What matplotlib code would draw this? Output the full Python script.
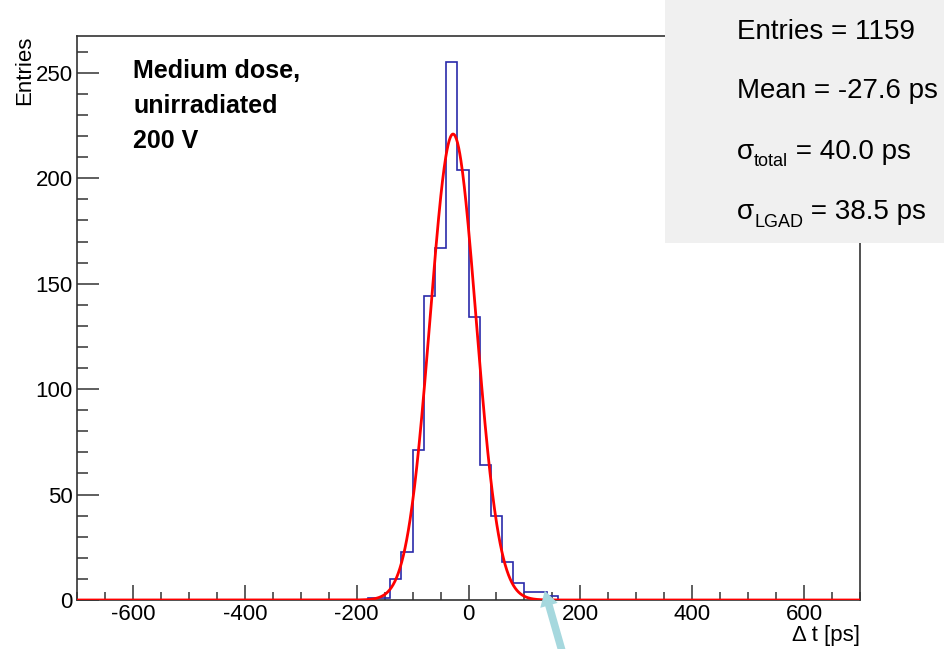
import numpy as np
import matplotlib
matplotlib.use("Agg")
import matplotlib.pyplot as plt
from matplotlib.ticker import MultipleLocator
from matplotlib.patches import Rectangle

plt.rcParams['font.family'] = ['Liberation Sans', 'DejaVu Sans']
plt.rcParams['axes.unicode_minus'] = False

# ---- data ----
bin_width = 20
x_range = (-700, 700)
first_bin_low = -180
counts = [1, 1, 10, 23, 71, 144, 167, 255, 204, 134, 64, 40, 18, 8, 4, 4, 2]

fit_amp = 221.0
fit_mean = -27.6
fit_sigma = 41.0

stats_plain = ["Entries = 1159", "Mean = -27.6 ps"]
stats_sigma = [("total", " = 40.0 ps"), ("LGAD", " = 38.5 ps")]
label_text = "Medium dose,\nunirradiated\n200 V"

# ---- figure ----
W, H = 945, 649
fig = plt.figure(figsize=(W / 100, H / 100), dpi=100)
L, R, B, T = 77, 860, 600, 36
ax = fig.add_axes([L / W, 1 - B / H, (R - L) / W, (B - T) / H])

edges = np.arange(x_range[0], x_range[1] + bin_width, bin_width)
full = np.zeros(len(edges) - 1)
i0 = int((first_bin_low - x_range[0]) / bin_width)
full[i0:i0 + len(counts)] = counts
ax.stairs(full, edges, color='#2a2aaa', linewidth=1.2, baseline=0, zorder=3)

xf = np.linspace(x_range[0], x_range[1], 1400)
yf = fit_amp * np.exp(-0.5 * ((xf - fit_mean) / fit_sigma) ** 2)
ax.plot(xf, yf, color='#ff0000', linewidth=2.0, zorder=4)

ax.set_xlim(*x_range)
ax.set_ylim(0, 267.5)
ax.xaxis.set_major_locator(MultipleLocator(200))
ax.xaxis.set_minor_locator(MultipleLocator(50))
ax.yaxis.set_major_locator(MultipleLocator(50))
ax.yaxis.set_minor_locator(MultipleLocator(10))
ax.tick_params(axis='both', which='both', direction='in', top=False, right=False,
               labelsize=16, width=1.1, color='#333333')
ax.tick_params(axis='x', which='major', length=11, pad=3)
ax.tick_params(axis='x', which='minor', length=6)
ax.tick_params(axis='y', which='major', length=16, pad=3)
ax.tick_params(axis='y', which='minor', length=8)
for s in ax.spines.values():
    s.set_linewidth(1.2)
    s.set_color('#333333')

ax.set_ylabel('Entries', loc='top', fontsize=16, labelpad=0)
ax.set_xlabel('Δ t [ps]', loc='right', fontsize=16)
ax.xaxis.set_label_coords(1.0, -0.045)

ax.text(0.072, 0.96, label_text, transform=ax.transAxes, fontsize=18,
        fontweight='bold', va='top', ha='left', linespacing=1.6)

# stats box
fig.patches.append(Rectangle((665 / W, 1 - 243 / H), (W - 665) / W, 243 / H,
                             transform=fig.transFigure, facecolor='#f0f0f0',
                             edgecolor='none', zorder=5))
fs = 20
x0 = 737
for yy, txt in zip([32, 91], stats_plain):
    fig.text(x0 / W, 1 - yy / H, txt, fontsize=fs, va='center', ha='left', zorder=6)

fig.canvas.draw()
rend = fig.canvas.get_renderer()
for yy, (sub, rest) in zip([152, 212], stats_sigma):
    t1 = fig.text(x0 / W, 1 - yy / H, 'σ', fontsize=fs, va='center', ha='left', zorder=6)
    bb1 = t1.get_window_extent(rend)
    t2 = fig.text(bb1.x1 / W, 1 - (yy + 10) / H, sub, fontsize=13, va='center', ha='left', zorder=6)
    bb2 = t2.get_window_extent(rend)
    fig.text(bb2.x1 / W, 1 - yy / H, rest, fontsize=fs, va='center', ha='left', zorder=6)

# light blue arrow (overlay)
ax_arrow = fig.add_axes([0, 0, 1, 1], facecolor='none')
ax_arrow.set_xlim(0, W)
ax_arrow.set_ylim(H, 0)
ax_arrow.axis('off')
ax_arrow.annotate('', xy=(544, 588), xytext=(566, 665),
                  arrowprops=dict(arrowstyle='simple,head_width=1.3,head_length=1.1,tail_width=0.55',
                                  color='#a6d8de', lw=0))

fig.savefig('out.png', dpi=100)
